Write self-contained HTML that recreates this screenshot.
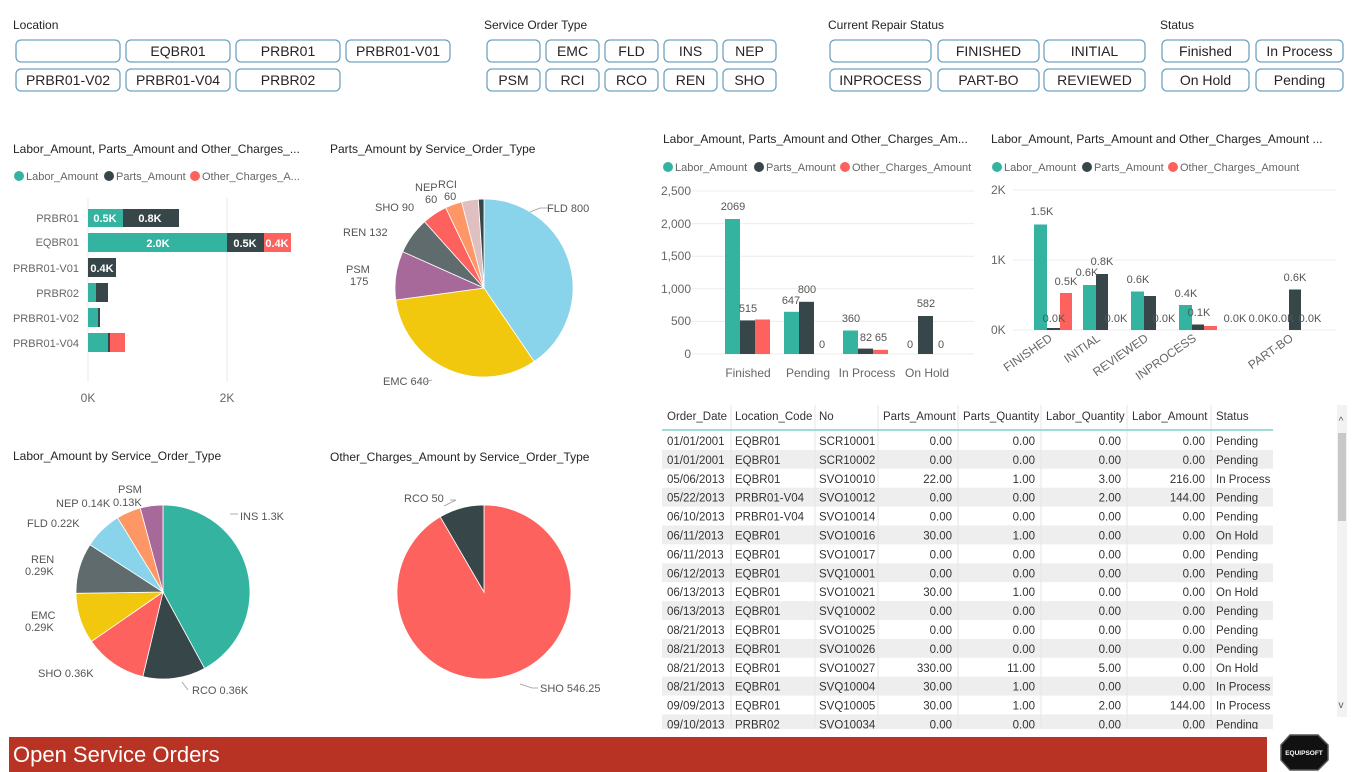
<!DOCTYPE html>
<html><head><meta charset="utf-8"><style>
html,body{margin:0;padding:0;background:#fff;width:1360px;height:772px;overflow:hidden}
svg{display:block;font-family:"Liberation Sans",sans-serif}
</style></head><body>
<svg id="s" width="1360" height="772" viewBox="0 0 1360 772" xmlns="http://www.w3.org/2000/svg">
<g font-size="12" fill="#252423">
<text x="13" y="29">Location</text>
<text x="484" y="29">Service Order Type</text>
<text x="828" y="29">Current Repair Status</text>
<text x="1160" y="29">Status</text>
</g>
<g id="btns" fill="#fff" stroke="#6fa3bf" stroke-width="1.3"></g>
<g id="btxt" font-size="14" fill="#252423" text-anchor="middle"></g>

<!-- left bar chart -->
<text x="13" y="153" font-size="12" fill="#252423">Labor_Amount, Parts_Amount and Other_Charges_...</text>
<g font-size="11" fill="#666">
<circle cx="19" cy="176" r="5" fill="#34B3A1"/><text x="26" y="180">Labor_Amount</text>
<circle cx="109" cy="176" r="5" fill="#374649"/><text x="116" y="180">Parts_Amount</text>
<circle cx="195" cy="176" r="5" fill="#FD625E"/><text x="202" y="180">Other_Charges_A...</text>
</g>
<line x1="88" y1="198" x2="88" y2="382" stroke="#e8e8e8"/>
<line x1="227" y1="198" x2="227" y2="382" stroke="#e8e8e8"/>
<g font-size="11" fill="#666" text-anchor="end">
<text x="79" y="222">PRBR01</text><text x="79" y="246">EQBR01</text><text x="79" y="272">PRBR01-V01</text>
<text x="79" y="297">PRBR02</text><text x="79" y="322">PRBR01-V02</text><text x="79" y="347">PRBR01-V04</text>
</g>
<g>
<rect x="88" y="209" width="35" height="18" fill="#34B3A1"/><rect x="123" y="209" width="56" height="18" fill="#374649"/>
<rect x="88" y="233" width="139" height="19" fill="#34B3A1"/><rect x="227" y="233" width="37" height="19" fill="#374649"/><rect x="264" y="233" width="27" height="19" fill="#FD625E"/>
<rect x="88" y="258" width="28" height="19" fill="#374649"/>
<rect x="88" y="283" width="8" height="19" fill="#34B3A1"/><rect x="96" y="283" width="12" height="19" fill="#374649"/>
<rect x="88" y="308" width="10" height="19" fill="#34B3A1"/><rect x="98" y="308" width="2" height="19" fill="#374649"/>
<rect x="88" y="333" width="20" height="19" fill="#34B3A1"/><rect x="108" y="333" width="2" height="19" fill="#374649"/><rect x="110" y="333" width="15" height="19" fill="#FD625E"/>
</g>
<g font-size="11" font-weight="bold" fill="#fff" text-anchor="middle">
<text x="105" y="222">0.5K</text><text x="150" y="222">0.8K</text>
<text x="158" y="247">2.0K</text><text x="245" y="247">0.5K</text><text x="277" y="247">0.4K</text>
<text x="102" y="272">0.4K</text>
</g>
<g font-size="12" fill="#666" text-anchor="middle"><text x="88" y="402">0K</text><text x="227" y="402">2K</text></g>

<!-- pies titles -->
<g font-size="12" fill="#252423">
<text x="330" y="153">Parts_Amount by Service_Order_Type</text>
<text x="13" y="460">Labor_Amount by Service_Order_Type</text>
<text x="330" y="461">Other_Charges_Amount by Service_Order_Type</text>
</g>
<g id="pies" stroke="#fff" stroke-width="0.8"></g>
<g font-size="11" fill="#555" stroke="none">
<text x="547" y="212">FLD 800</text>
<text x="383" y="385">EMC 640</text>
<text x="346" y="273">PSM</text><text x="350" y="285">175</text>
<text x="343" y="236">REN 132</text>
<text x="375" y="211">SHO 90</text>
<text x="415" y="191">NEP</text><text x="425" y="203">60</text>
<text x="438" y="188">RCI</text><text x="444" y="200">60</text>
<text x="240" y="520">INS 1.3K</text>
<text x="192" y="694">RCO 0.36K</text>
<text x="38" y="677">SHO 0.36K</text>
<text x="31" y="619">EMC</text><text x="25" y="631">0.29K</text>
<text x="31" y="563">REN</text><text x="25" y="575">0.29K</text>
<text x="27" y="527">FLD 0.22K</text>
<text x="56" y="507">NEP 0.14K</text>
<text x="118" y="493">PSM</text><text x="113" y="506">0.13K</text>
<text x="404" y="502">RCO 50</text>
<text x="540" y="692">SHO 546.25</text>
</g>
<g stroke="#999" fill="none" stroke-width="0.8">
<path d="M540 208 L548 208 M530 212 L540 208"/>
<path d="M432 380 L425 382"/>
<path d="M444 506 L456 500 L450 500"/>
<path d="M520 684 L532 688 L538 688"/>
<path d="M230 514 L238 514"/>
<path d="M182 682 L188 690"/>
</g>

<!-- chart top right 1 -->
<text x="663" y="143" font-size="12" fill="#252423">Labor_Amount, Parts_Amount and Other_Charges_Am...</text>
<g font-size="11" fill="#666">
<circle cx="668" cy="167" r="5" fill="#34B3A1"/><text x="675" y="171">Labor_Amount</text>
<circle cx="759" cy="167" r="5" fill="#374649"/><text x="766" y="171">Parts_Amount</text>
<circle cx="845" cy="167" r="5" fill="#FD625E"/><text x="852" y="171">Other_Charges_Amount</text>
</g>
<g stroke="#ececec"><line x1="692" y1="191" x2="974" y2="191"/><line x1="692" y1="223.6" x2="974" y2="223.6"/><line x1="692" y1="256.2" x2="974" y2="256.2"/><line x1="692" y1="288.8" x2="974" y2="288.8"/><line x1="692" y1="321.4" x2="974" y2="321.4"/><line x1="692" y1="354" x2="974" y2="354"/></g>
<g font-size="12" fill="#666" text-anchor="end"><text x="691" y="195">2,500</text><text x="691" y="228">2,000</text><text x="691" y="260">1,500</text><text x="691" y="293">1,000</text><text x="691" y="325">500</text><text x="691" y="358">0</text></g>
<g>
<rect x="725" y="219" width="15" height="135" fill="#34B3A1"/><rect x="740" y="320.4" width="15" height="33.6" fill="#374649"/><rect x="755" y="319.5" width="15" height="34.5" fill="#FD625E"/>
<rect x="784" y="311.8" width="15" height="42.2" fill="#34B3A1"/><rect x="799" y="301.8" width="15" height="52.2" fill="#374649"/>
<rect x="843" y="330.5" width="15" height="23.5" fill="#34B3A1"/><rect x="858" y="348.6" width="15" height="5.4" fill="#374649"/><rect x="873" y="349.8" width="15" height="4.2" fill="#FD625E"/>
<rect x="918" y="316" width="15" height="38" fill="#374649"/>
</g>
<g font-size="11" fill="#555" text-anchor="middle">
<text x="733" y="210">2069</text><text x="748" y="312">515</text>
<text x="791" y="304">647</text><text x="807" y="293">800</text><text x="822" y="348">0</text>
<text x="851" y="322">360</text><text x="866" y="341">82</text><text x="881" y="341">65</text>
<text x="910" y="348">0</text><text x="926" y="307">582</text><text x="941" y="348">0</text>
</g>
<g font-size="12" fill="#666" text-anchor="middle"><text x="748" y="377">Finished</text><text x="808" y="377">Pending</text><text x="867" y="377">In Process</text><text x="927" y="377">On Hold</text></g>

<!-- chart top right 2 -->
<text x="991" y="143" font-size="12" fill="#252423">Labor_Amount, Parts_Amount and Other_Charges_Amount ...</text>
<g font-size="11" fill="#666">
<circle cx="997" cy="167" r="5" fill="#34B3A1"/><text x="1004" y="171">Labor_Amount</text>
<circle cx="1087" cy="167" r="5" fill="#374649"/><text x="1094" y="171">Parts_Amount</text>
<circle cx="1173" cy="167" r="5" fill="#FD625E"/><text x="1180" y="171">Other_Charges_Amount</text>
</g>
<g stroke="#ececec"><line x1="1013" y1="190" x2="1336" y2="190"/><line x1="1013" y1="260" x2="1336" y2="260"/><line x1="1013" y1="330" x2="1336" y2="330"/></g>
<g font-size="12" fill="#666"><text x="991" y="194">2K</text><text x="991" y="264">1K</text><text x="991" y="334">0K</text></g>
<g>
<rect x="1034" y="224.5" width="13" height="105.5" fill="#34B3A1"/><rect x="1047" y="328" width="13" height="2" fill="#374649"/><rect x="1060" y="293" width="12" height="37" fill="#FD625E"/>
<rect x="1083" y="285" width="13" height="45" fill="#34B3A1"/><rect x="1096" y="274" width="12" height="56" fill="#374649"/>
<rect x="1131" y="291.5" width="13" height="38.5" fill="#34B3A1"/><rect x="1144" y="296" width="12" height="34" fill="#374649"/>
<rect x="1179" y="305" width="13" height="25" fill="#34B3A1"/><rect x="1192" y="324.5" width="12" height="5.5" fill="#374649"/><rect x="1204" y="326" width="13" height="4" fill="#FD625E"/>
<rect x="1289" y="289.5" width="12" height="40.5" fill="#374649"/>
</g>
<g font-size="11" fill="#555" text-anchor="middle">
<text x="1042" y="215">1.5K</text><text x="1054" y="322">0.0K</text><text x="1066" y="285">0.5K</text>
<text x="1087" y="276">0.6K</text><text x="1102" y="265">0.8K</text><text x="1116" y="322">0.0K</text>
<text x="1138" y="283">0.6K</text><text x="1164" y="322">0.0K</text>
<text x="1186" y="297">0.4K</text><text x="1199" y="316">0.1K</text>
<text x="1235" y="322">0.0K</text><text x="1260" y="322">0.0K</text><text x="1283" y="322">0.0K</text><text x="1295" y="281">0.6K</text><text x="1310" y="322">0.0K</text>
</g>
<g font-size="12" fill="#666" text-anchor="end">
<text transform="translate(1053,340) rotate(-35)">FINISHED</text>
<text transform="translate(1101,340) rotate(-35)">INITIAL</text>
<text transform="translate(1149,340) rotate(-35)">REVIEWED</text>
<text transform="translate(1197,340) rotate(-35)">INPROCESS</text>
<text transform="translate(1294,340) rotate(-35)">PART-BO</text>
</g>

<!-- table -->
<g id="tbl"></g>
<rect x="1337" y="405" width="10" height="312" fill="#f2f2f2"/>
<rect x="1338" y="433" width="8" height="88" fill="#c8c8c8"/>
<text x="1341" y="424" font-size="10" fill="#555" text-anchor="middle">^</text>
<text x="1341" y="708" font-size="10" fill="#555" text-anchor="middle">v</text>

<!-- footer -->
<rect x="9" y="737" width="1258" height="35" fill="#B83323"/>
<text x="13" y="762" font-size="22" fill="#fff">Open Service Orders</text>
<polygon points="1290,735 1318,735 1328,745 1328,760 1318,770 1290,770 1281,760 1281,745" fill="#111" stroke="#555" stroke-width="1.5"/>
<text x="1304" y="755" font-size="6.5" font-weight="bold" fill="#fff" text-anchor="middle">EQUIPSOFT</text>
</svg>
<script>
var NS="http://www.w3.org/2000/svg",s=document.getElementById('s');
function el(p,t,a,txt){var e=document.createElementNS(NS,t);for(var k in a)e.setAttribute(k,a[k]);if(txt!=null)e.textContent=txt;p.appendChild(e);return e;}
var B=document.getElementById('btns'),T=document.getElementById('btxt');
function btn(x,y,w,t){el(B,'rect',{x:x,y:y,width:w,height:22,rx:5});if(t)el(T,'text',{x:x+w/2,y:y+16},t);}
[[16,''],[126,'EQBR01'],[236,'PRBR01'],[346,'PRBR01-V01']].forEach(function(a){btn(a[0],40,104,a[1]);});
[[16,'PRBR01-V02'],[126,'PRBR01-V04'],[236,'PRBR02']].forEach(function(a){btn(a[0],69,104,a[1]);});
var sx=[487,546,605,664,723];['','EMC','FLD','INS','NEP'].forEach(function(t,i){btn(sx[i],40,53,t);});
['PSM','RCI','RCO','REN','SHO'].forEach(function(t,i){btn(sx[i],69,53,t);});
var cx=[830,938,1044];['','FINISHED','INITIAL'].forEach(function(t,i){btn(cx[i],40,101,t);});
['INPROCESS','PART-BO','REVIEWED'].forEach(function(t,i){btn(cx[i],69,101,t);});
btn(1162,40,87,'Finished');btn(1256,40,87,'In Process');btn(1162,69,87,'On Hold');btn(1256,69,87,'Pending');
var P=document.getElementById('pies');
function pie(cx,cy,r,start,vals,cols){var tot=vals.reduce(function(a,b){return a+b},0),a=start;
vals.forEach(function(v,i){var b=a+v/tot*360;var r1=(a-90)*Math.PI/180,r2=(b-90)*Math.PI/180;
var d='M'+cx+' '+cy+' L'+(cx+r*Math.cos(r1))+' '+(cy+r*Math.sin(r1))+' A'+r+' '+r+' 0 '+((b-a)>180?1:0)+' 1 '+(cx+r*Math.cos(r2))+' '+(cy+r*Math.sin(r2))+' Z';
el(P,'path',{d:d,fill:cols[i]});a=b;});}
pie(484,288,89,0,[800,640,175,132,90,60,60,20],['#8AD4EB','#F2C80F','#A66999','#5F6B6D','#FD625E','#FE9666','#DFBFBF','#374649']);
pie(163,592,87,0,[1.3,.36,.36,.29,.29,.22,.14,.13],['#34B3A1','#374649','#FD625E','#F2C80F','#5F6B6D','#8AD4EB','#FE9666','#A66999']);
pie(484,592,87,0,[546.25,50],['#FD625E','#374649']);
var G=document.getElementById('tbl');
var rows=[["01/01/2001","EQBR01","SCR10001","0.00","0.00","0.00","0.00","Pending"],["01/01/2001","EQBR01","SCR10002","0.00","0.00","0.00","0.00","Pending"],["05/06/2013","EQBR01","SVO10010","22.00","1.00","3.00","216.00","In Process"],["05/22/2013","PRBR01-V04","SVO10012","0.00","0.00","2.00","144.00","Pending"],["06/10/2013","PRBR01-V04","SVO10014","0.00","0.00","0.00","0.00","Pending"],["06/11/2013","EQBR01","SVO10016","30.00","1.00","0.00","0.00","On Hold"],["06/11/2013","EQBR01","SVO10017","0.00","0.00","0.00","0.00","Pending"],["06/12/2013","EQBR01","SVQ10001","0.00","0.00","0.00","0.00","Pending"],["06/13/2013","EQBR01","SVO10021","30.00","1.00","0.00","0.00","On Hold"],["06/13/2013","EQBR01","SVQ10002","0.00","0.00","0.00","0.00","Pending"],["08/21/2013","EQBR01","SVO10025","0.00","0.00","0.00","0.00","Pending"],["08/21/2013","EQBR01","SVO10026","0.00","0.00","0.00","0.00","Pending"],["08/21/2013","EQBR01","SVO10027","330.00","11.00","5.00","0.00","On Hold"],["08/21/2013","EQBR01","SVQ10004","30.00","1.00","0.00","0.00","In Process"],["09/09/2013","EQBR01","SVQ10005","30.00","1.00","2.00","144.00","In Process"],["09/10/2013","PRBR02","SVO10034","0.00","0.00","0.00","0.00","Pending"]];
var hx=[667,735,819,883,963,1046,1132,1216],hdr=["Order_Date","Location_Code","No","Parts_Amount","Parts_Quantity","Labor_Quantity","Labor_Amount","Status"];
var rx=[null,null,null,952,1035,1121,1205,null];
var cl=document.createElementNS(NS,'clipPath');cl.id='c';el(cl,'rect',{x:660,y:400,width:620,height:329});s.appendChild(cl);
var g=el(G,'g',{'clip-path':'url(#c)','font-size':'11.5',fill:'#333'});
rows.forEach(function(r,i){var y=431+i*18.9;if(i%2==1)el(g,'rect',{x:662,y:y,width:611,height:18.9,fill:'#eeeeee'});
r.forEach(function(v,j){if(rx[j])el(g,'text',{x:rx[j],y:y+14,'text-anchor':'end'},v);else el(g,'text',{x:hx[j],y:y+14},v);});});
hdr.forEach(function(h,j){el(G,'text',{x:hx[j],y:420,'font-size':'11.5',fill:'#333'},h);});
[731,815,878,958,1041,1127,1211].forEach(function(x){el(G,'line',{x1:x,y1:405,x2:x,y2:729,stroke:'#e6e6e6'});});
el(G,'line',{x1:662,y1:430,x2:1273,y2:430,stroke:'#7fd1c9','stroke-width':1.5});
</script>
</body></html>
